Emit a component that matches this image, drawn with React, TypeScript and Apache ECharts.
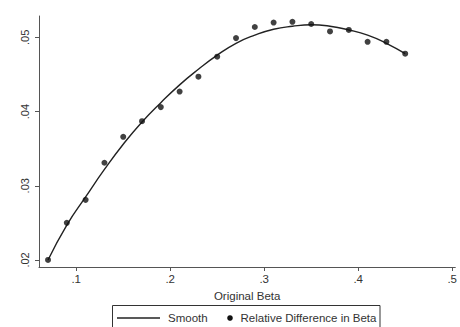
import React, { useEffect, useRef } from "react";
import * as echarts from "echarts";

const betaValues = [0.07, 0.09, 0.11, 0.13, 0.15, 0.17, 0.19, 0.21, 0.23, 0.25, 0.27, 0.29, 0.31, 0.33, 0.35, 0.37, 0.39, 0.41, 0.43, 0.45];
const relDiff = [0.0200, 0.0250, 0.0281, 0.0331, 0.0366, 0.0387, 0.0406, 0.0427, 0.0447, 0.0474, 0.0499, 0.0514, 0.0520, 0.0521, 0.0518, 0.0508, 0.0510, 0.0494, 0.0494, 0.0478];
const smoothVals = [0.0200, 0.0247, 0.0285, 0.0322, 0.0356, 0.0386, 0.0412, 0.0436, 0.0457, 0.0476, 0.0492, 0.0503, 0.0511, 0.0515, 0.0517, 0.0515, 0.0510, 0.0503, 0.0492, 0.0478];
const xTicks = [0.1, 0.2, 0.3, 0.4, 0.5];
const yTicks = [0.02, 0.03, 0.04, 0.05];
const xTitle = "Original Beta";
const legendSmooth = "Smooth";
const legendPoints = "Relative Difference in Beta";

const FONT = "'Liberation Sans', Arial, sans-serif";

export default function App() {
  const ref = useRef<HTMLDivElement>(null);
  useEffect(() => {
    if (!ref.current) return;
    const chart = echarts.init(ref.current, null, { renderer: "svg" });
    chart.setOption({
      animation: false,
      backgroundColor: "#ffffff",
      textStyle: { fontFamily: FONT },
      grid: { left: 39, right: 2, top: 16, bottom: 60, containLabel: false },
      xAxis: {
        type: "value",
        min: 0.0604,
        max: 0.5033,
        name: xTitle,
        nameLocation: "middle",
        nameGap: 19,
        nameTextStyle: { fontFamily: FONT, fontSize: 11.5, color: "#333" },
        axisLine: { show: true, lineStyle: { color: "#555", width: 1 } },
        axisTick: { show: true, length: 4, customValues: xTicks, lineStyle: { color: "#555" } },
        axisLabel: {
          customValues: xTicks,
          margin: 6,
          fontFamily: FONT,
          fontSize: 11.5,
          color: "#333",
          formatter: (v: number) => "." + Math.round(v * 10),
        },
        splitLine: { show: false },
      },
      yAxis: {
        type: "value",
        min: 0.01905,
        max: 0.05288,
        axisLine: { show: true, lineStyle: { color: "#555", width: 1 } },
        axisTick: { show: true, length: 4, customValues: yTicks, lineStyle: { color: "#555" } },
        axisLabel: {
          customValues: yTicks,
          rotate: 90,
          margin: 9,
          fontFamily: FONT,
          fontSize: 11,
          color: "#333",
          formatter: (v: number) => ".0" + Math.round(v * 100),
        },
        splitLine: { show: false },
      },
      series: [
        {
          name: legendSmooth,
          type: "line",
          data: betaValues.map((x, i) => [x, smoothVals[i]]),
          smooth: true,
          showSymbol: false,
          symbol: "none",
          lineStyle: { color: "#222", width: 1.4 },
          z: 2,
        },
        {
          name: legendPoints,
          type: "scatter",
          data: betaValues.map((x, i) => [x, relDiff[i]]),
          symbol: "circle",
          symbolSize: 6,
          itemStyle: { color: "#111" },
          z: 3,
        },
      ],
      graphic: [
        {
          type: "rect",
          shape: { x: 112.5, y: 305.5, width: 267.5, height: 30 },
          style: { fill: "#fff", stroke: "#333", lineWidth: 1 },
        },
        {
          type: "line",
          shape: { x1: 117, y1: 318, x2: 160, y2: 318 },
          style: { stroke: "#222", lineWidth: 1.4 },
        },
        {
          type: "text",
          x: 168,
          y: 318,
          style: { text: legendSmooth, font: `11.5px ${FONT}`, fill: "#333", verticalAlign: "middle" },
        },
        {
          type: "circle",
          shape: { cx: 230, cy: 318, r: 2.8 },
          style: { fill: "#111" },
        },
        {
          type: "text",
          x: 240.5,
          y: 318,
          style: { text: legendPoints, font: `11.5px ${FONT}`, fill: "#333", verticalAlign: "middle" },
        },
      ],
    });
    return () => chart.dispose();
  }, []);
  return <div ref={ref} style={{ width: 460, height: 327, position: "absolute", left: 0, top: 0 }} />;
}
